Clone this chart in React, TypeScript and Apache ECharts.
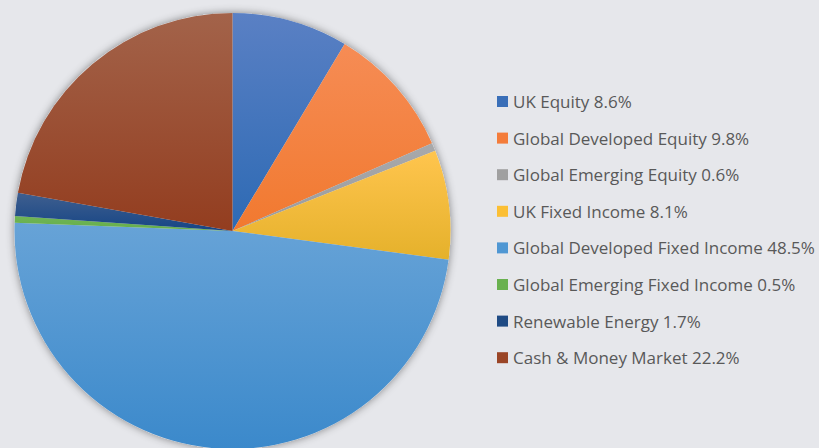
import React, { useEffect, useRef } from "react";
import * as echarts from "echarts";

const categories = [
  "UK Equity",
  "Global Developed Equity",
  "Global Emerging Equity",
  "UK Fixed Income",
  "Global Developed Fixed Income",
  "Global Emerging Fixed Income",
  "Renewable Energy",
  "Cash & Money Market",
];
const values = [8.6, 9.8, 0.6, 8.1, 48.5, 0.5, 1.7, 22.2];
const topColors = ["#5a80c4", "#f68c55", "#a8a9ab", "#ffc54e", "#67a3d7", "#6fb555", "#3f5f8f", "#a3634a"];
const bottomColors = ["#2d6ab4", "#f1792f", "#9a9b9d", "#e5b12b", "#3b89cb", "#65ad4c", "#164585", "#933d1f"];
const legendColors = ["#3a6fb8", "#f47c3a", "#a0a0a0", "#fbbf34", "#4f97d3", "#69b14f", "#1f4b84", "#9a4526"];

export default function App() {
  const ref = useRef<HTMLDivElement>(null);
  useEffect(() => {
    document.body.style.margin = "0";
    document.body.style.overflow = "hidden";
    const chart = echarts.init(ref.current!, null, { renderer: "svg" });
    const data = categories.map((name, i) => ({
      name,
      value: values[i],
      itemStyle: {
        color: new echarts.graphic.LinearGradient(0, 0, 0, 1, [
          { offset: 0, color: topColors[i] },
          { offset: 1, color: bottomColors[i] },
        ]),
      },
    }));
    const valueMap: Record<string, number> = {};
    categories.forEach((c, i) => (valueMap[c] = values[i]));
    chart.setOption({
      animation: false,
      backgroundColor: "#e6e7eb",
      legend: {
        data: categories.map((c, i) => ({ name: c, itemStyle: { color: legendColors[i] } })),
        orient: "vertical",
        left: 492,
        top: 88,
        icon: "rect",
        itemWidth: 11,
        itemHeight: 11,
        itemGap: 19.6,
        selectedMode: false,
        formatter: (name: string) => `${name} ${valueMap[name].toFixed(1)}%`,
        textStyle: {
          fontFamily: "Open Sans",
          fontSize: 17,
          lineHeight: 16,
          color: "#595959",
          padding: [0, 0, 0, 0],
        },
      },
      series: [
        {
          type: "pie",
          silent: true,
          center: [232.5, 231],
          radius: 218,
          label: { show: false },
          labelLine: { show: false },
          itemStyle: {
            color: "#e6e7eb",
            shadowBlur: 8,
            shadowColor: "rgba(0,0,0,0.45)",
          },
          data: [{ name: "__bg", value: 1 }],
          z: 1,
        },
        {
          type: "pie",
          silent: true,
          center: [232.5, 231],
          radius: 218,
          startAngle: 90,
          clockwise: true,
          label: { show: false },
          labelLine: { show: false },
          itemStyle: { borderWidth: 0 },
          data,
          z: 2,
        },
      ],
    });
    return () => chart.dispose();
  }, []);
  return <div ref={ref} style={{ width: 819, height: 448 }} />;
}
